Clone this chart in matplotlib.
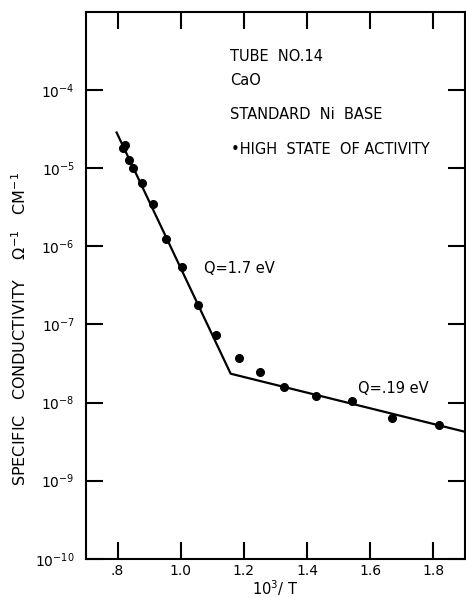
import numpy as np
from matplotlib import pyplot as plt
from matplotlib.ticker import FixedLocator, NullLocator

# measured points, high state of activity
inv_t = [0.818, 0.822, 0.837, 0.849, 0.877, 0.911, 0.954, 1.003, 1.054,
         1.111, 1.183, 1.251, 1.328, 1.427, 1.542, 1.668, 1.818]
sigma = [1.8e-5, 2.0e-5, 1.27e-5, 1.0e-5, 6.4e-6, 3.5e-6, 1.23e-6, 5.4e-7,
         1.75e-7, 7.4e-8, 3.7e-8, 2.43e-8, 1.6e-8, 1.2e-8, 1.04e-8, 6.4e-9,
         5.1e-9]

# fitted two-slope line (Q=1.7 eV and Q=.19 eV)
fit_x = [0.797, 1.158, 1.897]
fit_y = [2.86e-5, 2.34e-8, 4.25e-9]

xticks = [0.8, 1.0, 1.2, 1.4, 1.6, 1.8]
xlabels = [".8", "1.0", "1.2", "1.4", "1.6", "1.8"]
yticks = [1e-10, 1e-9, 1e-8, 1e-7, 1e-6, 1e-5, 1e-4]
ylabels = ["10$^{-10}$", "10$^{-9}$", "10$^{-8}$", "10$^{-7}$",
           "10$^{-6}$", "10$^{-5}$", "10$^{-4}$"]

fig = plt.figure(figsize=(4.66, 5.97), dpi=100)
ax = fig.add_axes([0.1845, 0.064, 0.8135, 0.916])

ax.plot(fit_x, fit_y, "k-", lw=1.6)
ax.plot(inv_t, sigma, "ko", markersize=5.5)

ax.set_yscale("log")
ax.set_xlim(0.7, 1.9)
ax.set_ylim(1e-10, 1e-3)
ax.xaxis.set_major_locator(FixedLocator(xticks))
ax.set_xticklabels(xlabels)
ax.yaxis.set_major_locator(FixedLocator(yticks))
ax.set_yticklabels(ylabels)
ax.xaxis.set_minor_locator(NullLocator())
ax.yaxis.set_minor_locator(NullLocator())
ax.tick_params(direction="in", length=12, width=1.5, top=True, right=True,
               labelsize=10, pad=4)
ax.tick_params(axis="y", pad=8)
for s in ax.spines.values():
    s.set_linewidth(1.5)

ax.set_ylabel("SPECIFIC   CONDUCTIVITY    $\\Omega^{-1}$   CM$^{-1}$",
              fontsize=11.5)
ax.yaxis.set_label_coords(-0.15, 0.42)
ax.set_xlabel("10$^3$/ T", fontsize=10.5, labelpad=0)

ax.text(1.156, 2.7e-4, "TUBE  NO.14", fontsize=10.5, va="center")
ax.text(1.156, 1.34e-4, "CaO", fontsize=10.5, va="center")
ax.text(1.156, 4.9e-5, "STANDARD  Ni  BASE", fontsize=10.5, va="center")
ax.text(1.158, 1.73e-5, "\u2022HIGH  STATE  OF ACTIVITY", fontsize=10.5, va="center")
ax.text(1.073, 5.2e-7, "Q=1.7 eV", fontsize=10.5, va="center")
ax.text(1.56, 1.5e-8, "Q=.19 eV", fontsize=10.5, va="center")

fig.savefig("out.png", dpi=100)
